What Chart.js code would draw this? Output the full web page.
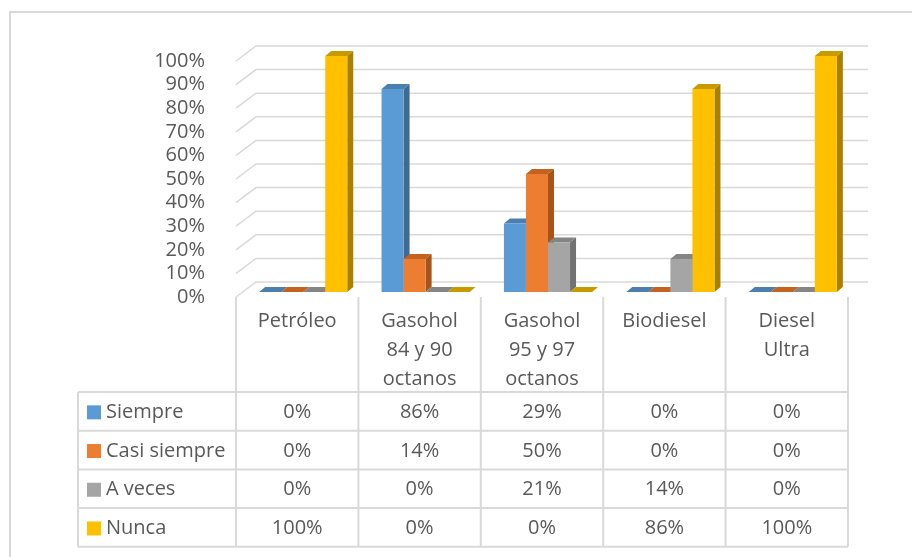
<!DOCTYPE html>
<html>
<head>
<meta charset="utf-8">
<script src="https://cdn.jsdelivr.net/npm/chart.js@4"></script>
<style>
  body { margin: 0; background: #fff; }
  #chart { display: block; }
</style>
</head>
<body>
<canvas id="chart" width="912" height="557"></canvas>
<script>
// datos del gráfico (porcentajes)
const categories = [['Petróleo'], ['Gasohol', '84 y 90', 'octanos'], ['Gasohol', '95 y 97', 'octanos'], ['Biodiesel'], ['Diesel', 'Ultra']];
const seriesNames = ['Siempre', 'Casi siempre', 'A veces', 'Nunca'];
const siempre = [0, 86, 29, 0, 0];
const casiSiempre = [0, 14, 50, 0, 0];
const aVeces = [0, 0, 21, 14, 0];
const nunca = [100, 0, 0, 86, 100];
const yTicks = [0, 10, 20, 30, 40, 50, 60, 70, 80, 90, 100];

const colors = ['#5B9BD5', '#ED7D31', '#A5A5A5', '#FFC000'];
const topColors = ['#4A7FB0', '#C4621F', '#858585', '#C99A00'];
const sideColors = ['#3E6B94', '#A8531A', '#727272', '#A98100'];

const FONT = '"Open Sans", "Noto Sans", sans-serif';
const TXT = '#595959';
const LINE = '#D9D9D9';
const DX = 6, DY = -5;          // profundidad de las barras
const WALL_DX = 20;             // profundidad de la pared
const TABLE_LEFT = 78;

// paredes y líneas de cuadrícula 3D
const wallPlugin = {
    id: 'wall',
    beforeDatasetsDraw(chart) {
        const ctx = chart.ctx;
        const y = chart.scales.y;
        const area = chart.chartArea;
        const frontX = area.left - 6;
        ctx.save();
        ctx.strokeStyle = LINE;
        ctx.lineWidth = 1.5;
        yTicks.forEach(t => {
            const py = y.getPixelForValue(t);
            ctx.beginPath();
            ctx.moveTo(frontX, py + 5);
            ctx.lineTo(frontX + WALL_DX, py - 10);
            ctx.lineTo(area.right + 14, py - 10);
            ctx.stroke();
        });
        ctx.restore();

        // caras superior y lateral de cada barra
        ctx.save();
        chart.data.datasets.forEach((ds, di) => {
            const meta = chart.getDatasetMeta(di);
            meta.data.forEach(bar => {
                const xl = bar.x - bar.width / 2, xr = bar.x + bar.width / 2;
                const yt = bar.y, yb = bar.base;
                ctx.fillStyle = topColors[di];
                ctx.beginPath();
                ctx.moveTo(xl, yt);
                ctx.lineTo(xl + DX, yt + DY);
                ctx.lineTo(xr + DX, yt + DY);
                ctx.lineTo(xr, yt);
                ctx.closePath();
                ctx.fill();
                if (yb - yt > 0.5) {
                    ctx.fillStyle = sideColors[di];
                    ctx.beginPath();
                    ctx.moveTo(xr, yt);
                    ctx.lineTo(xr + DX, yt + DY);
                    ctx.lineTo(xr + DX, yb + DY);
                    ctx.lineTo(xr, yb);
                    ctx.closePath();
                    ctx.fill();
                }
            });
        });
        ctx.restore();
    }
};

// tabla de datos debajo del gráfico
const tablePlugin = {
    id: 'dataTable',
    afterDraw(chart) {
        const ctx = chart.ctx;
        const x = chart.scales.x;
        const step = x.width / categories.length;
        const cols = [];
        for (let i = 0; i <= categories.length; i++) cols.push(x.left - 6 + i * step);
        const headTop = 297, rowTop = 392, rowH = 38.7;
        const rows = [siempre, casiSiempre, aVeces, nunca];

        ctx.save();
        // marco exterior
        ctx.strokeStyle = LINE;
        ctx.lineWidth = 2;
        ctx.beginPath();
        ctx.moveTo(10, 557);
        ctx.lineTo(10, 12);
        ctx.lineTo(912, 12);
        ctx.stroke();

        ctx.lineWidth = 2;
        ctx.beginPath();
        cols.forEach(cx => { ctx.moveTo(cx, headTop); ctx.lineTo(cx, rowTop + rowH * 4); });
        ctx.moveTo(TABLE_LEFT, rowTop); ctx.lineTo(TABLE_LEFT, rowTop + rowH * 4);
        for (let r = 0; r <= 4; r++) {
            ctx.moveTo(TABLE_LEFT, rowTop + r * rowH);
            ctx.lineTo(cols[cols.length - 1], rowTop + r * rowH);
        }
        ctx.stroke();

        ctx.fillStyle = TXT;
        ctx.font = '20px ' + FONT;
        ctx.textAlign = 'center';
        ctx.textBaseline = 'middle';
        categories.forEach((lines, i) => {
            const cx = (cols[i] + cols[i + 1]) / 2;
            lines.forEach((ln, k) => ctx.fillText(ln, cx, 321 + k * 29));
        });

        rows.forEach((vals, r) => {
            const cy = rowTop + r * rowH + rowH / 2 + 1;
            ctx.fillStyle = colors[r];
            ctx.fillRect(87, cy - 7, 14, 14);
            ctx.fillStyle = TXT;
            ctx.textAlign = 'left';
            ctx.fillText(seriesNames[r], 106, cy);
            ctx.textAlign = 'center';
            vals.forEach((v, i) => ctx.fillText(v + '%', (cols[i] + cols[i + 1]) / 2, cy));
        });
        ctx.restore();
    }
};

const seriesData = [siempre, casiSiempre, aVeces, nunca];

new Chart(document.getElementById('chart'), {
    type: 'bar',
    data: {
        labels: categories,
        datasets: seriesNames.map((name, i) => ({
            label: name,
            data: seriesData[i],
            backgroundColor: colors[i],
            borderWidth: 0,
            categoryPercentage: 0.72,
            barPercentage: 1.0
        }))
    },
    options: {
        responsive: false,
        animation: false,
        devicePixelRatio: 1,
        layout: { padding: { left: 0, top: 56, right: 58, bottom: 265 } },
        plugins: {
            legend: { display: false },
            tooltip: { enabled: false }
        },
        scales: {
            x: { display: false },
            y: {
                min: 0,
                max: 100,
                afterFit: scale => { scale.width = 242; },
                grid: { display: false },
                border: { display: false },
                ticks: {
                    stepSize: 10,
                    autoSkip: false,
                    padding: 29,
                    labelOffset: 5,
                    color: TXT,
                    font: { family: FONT, size: 20 },
                    callback: v => v + '%'
                }
            }
        }
    },
    plugins: [wallPlugin, tablePlugin]
});
</script>
</body>
</html>
